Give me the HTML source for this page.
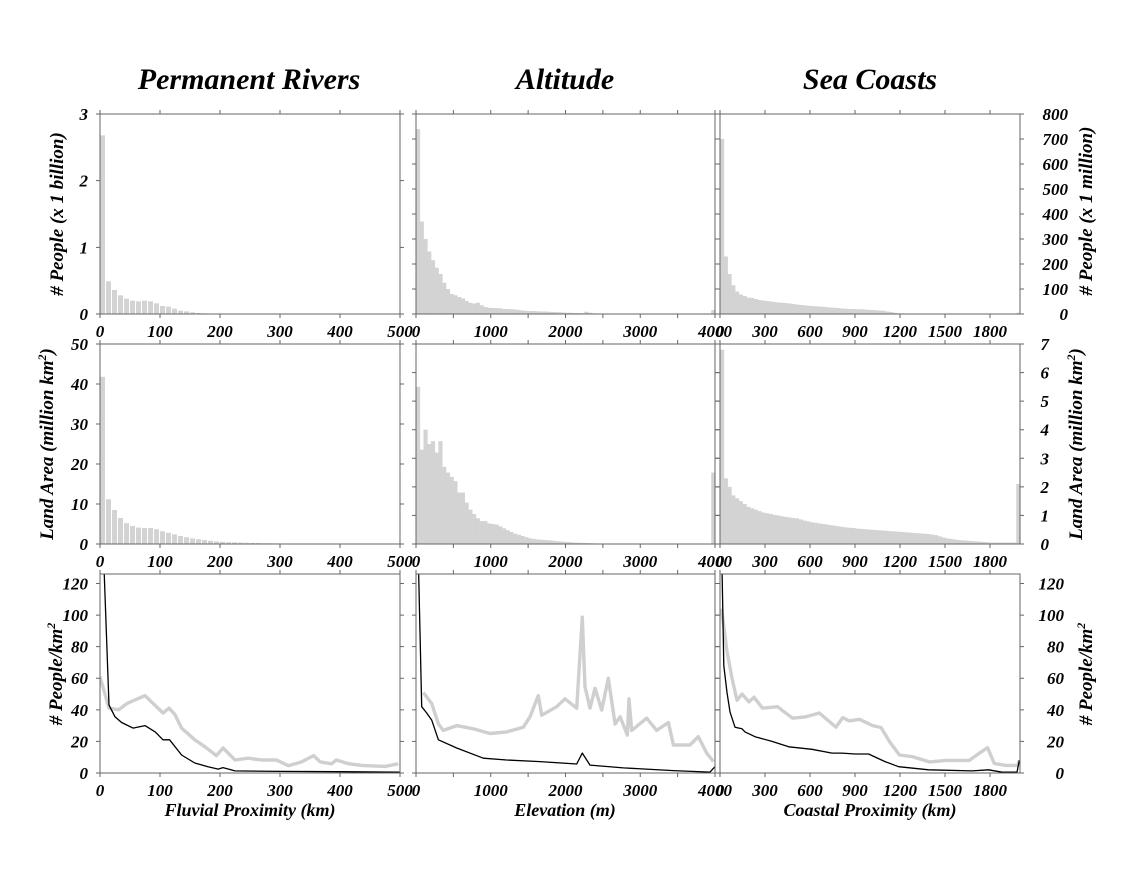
<!DOCTYPE html>
<html><head><meta charset="utf-8"><style>
html,body{margin:0;padding:0;background:#fff;}
svg{display:block;}
text{font-family:"Liberation Serif",serif;font-weight:bold;font-style:italic;fill:#000;}
</style></head><body>
<svg id="fig" width="1121" height="875" viewBox="0 0 1121 875" xmlns="http://www.w3.org/2000/svg">
<rect width="1121" height="875" fill="#fff"/>
<text x="249" y="89" font-size="30" text-anchor="middle">Permanent Rivers</text>
<text x="565" y="89" font-size="30" text-anchor="middle">Altitude</text>
<text x="870" y="89" font-size="30" text-anchor="middle">Sea Coasts</text>
<text font-size="19" text-anchor="middle" transform="translate(63,214) rotate(-90)"># People (x 1 billion)</text>
<text font-size="19" text-anchor="middle" transform="translate(53,444) rotate(-90)">Land Area (million km<tspan font-size="12" dy="-7">2</tspan><tspan dy="7">)</tspan></text>
<text font-size="19" text-anchor="middle" transform="translate(62,674) rotate(-90)"># People/km<tspan font-size="12" dy="-7">2</tspan></text>
<text font-size="19" text-anchor="middle" transform="translate(1092,211) rotate(-90)"># People (x 1 million)</text>
<text font-size="19" text-anchor="middle" transform="translate(1082,444) rotate(-90)">Land Area (million km<tspan font-size="12" dy="-7">2</tspan><tspan dy="7">)</tspan></text>
<text font-size="19" text-anchor="middle" transform="translate(1092,674) rotate(-90)"># People/km<tspan font-size="12" dy="-7">2</tspan></text>
<text x="250" y="816" font-size="18" text-anchor="middle">Fluvial Proximity (km)</text>
<text x="565" y="816" font-size="18" text-anchor="middle">Elevation (m)</text>
<text x="870" y="816" font-size="18" text-anchor="middle">Coastal Proximity (km)</text>
</svg>
<script>
// ---------- data ----------
const riverPeople = [2.68,0.49,0.36,0.28,0.23,0.20,0.19,0.20,0.19,0.16,0.12,0.11,0.08,0.05,0.04,0.025,0.015,0.01,0.008,0.005,0.004,0.003,0.003,0.002,0.002,0.002,0.001,0.001,0.001,0.001,0.001,0.001,0.001,0.001,0.001,0.001,0.001,0.001,0.001,0.001,0.001,0.001,0.001,0.001,0.001,0.001,0.001,0.001,0.001,0.001];
const riverArea = [41.8,11.2,8.5,6.5,5.2,4.5,4.1,4.0,4.0,3.7,3.2,2.8,2.4,2.0,1.7,1.4,1.2,1.0,0.8,0.65,0.55,0.45,0.4,0.35,0.3,0.27,0.24,0.21,0.19,0.17,0.15,0.13,0.12,0.11,0.1,0.09,0.08,0.07,0.06,0.05,0.05,0.04,0.04,0.03,0.03,0.03,0.02,0.02,0.02,0.02];
const altPeople = [740,370,300,250,215,185,160,125,100,80,75,68,62,52,45,42,45,35,28,25,24,24,23,20,20,19,18,16,14,13,12,12,11,10,10,9,8,8,7,6,5,5,4,4,3,9,5,3,2,2,2,2,2,2,2,1.5,1.5,1.5,1.5,1.5,1.5,1.5,1,1,1,1,1,1,1,1,1,1,1,1,1,1,1,1,1,16];
const altArea = [5.5,3.3,4.0,3.5,3.6,3.2,3.6,2.7,2.5,2.35,2.2,1.8,1.8,1.45,1.2,1.05,0.9,0.8,0.8,0.72,0.7,0.68,0.62,0.55,0.48,0.42,0.36,0.32,0.28,0.24,0.2,0.18,0.16,0.15,0.14,0.13,0.12,0.1,0.09,0.08,0.07,0.06,0.05,0.045,0.04,0.035,0.03,0.025,0.02,0.018,0.015,0.012,0.01,0.008,0.006,0.005,0.005,0.004,0.004,0.004,0.003,0.003,0.003,0.003,0.003,0.003,0.003,0.003,0.003,0.003,0.003,0.003,0.003,0.003,0.003,0.003,0.003,0.003,0.003,2.5];
const coastPeople = [700,230,160,115,90,78,72,66,64,60,56,54,52,50,48,46,45,44,42,40,38,36,35,33,32,31,30,29,27,26,25,24,22,21,20,20,19,19,18,17,16,15,14,13,10,8,5,3,2,1.5,1,1,1,1,1,1,1,1,1,1,1,1,1,1,1,1,1,1,1,1,1,1,1,1,1,1,1,1,1,5];
const coastArea = [6.8,2.3,2.0,1.7,1.6,1.5,1.4,1.3,1.25,1.2,1.15,1.1,1.08,1.05,1.02,1.0,0.97,0.95,0.93,0.91,0.9,0.86,0.82,0.79,0.76,0.74,0.72,0.7,0.68,0.66,0.64,0.62,0.6,0.58,0.57,0.56,0.54,0.53,0.52,0.51,0.5,0.49,0.48,0.47,0.46,0.45,0.44,0.43,0.42,0.41,0.4,0.39,0.38,0.37,0.36,0.35,0.33,0.31,0.27,0.23,0.2,0.18,0.16,0.14,0.13,0.12,0.11,0.1,0.09,0.08,0.07,0.06,0.05,0.05,0.05,0.05,0.05,0.05,0.05,2.1];
const riverDensKm = [0,15,25,36,55,75,92,105,116,136,158,180,197,205,225,300,400,500];
const riverDensBlack = [200,43,35.6,32,28.4,30,26,21,21,11.4,6.3,4,2.5,3.4,1.3,1,0.8,0.5];
const riverGrayKm = [0,15,31,45,75,105,115,125,136,158,175,194,205,225,247,269,294,314,336,356,367,386,394,414,436,475,497];
const riverDensGray = [61,41,40,44,49,38,41,37,28.4,21,16.6,11,15.8,8.2,9.4,8.2,8.2,4.6,7,11,7,5.8,8.2,5.9,4.8,4.2,5.8];
const altBlackM = [0,76,143,210,299,544,900,1213,1659,2150,2225,2328,2774,3443,3933,4000];
const altDensBlack = [200,42,38,33.5,21,15.8,9.4,8.2,7.2,5.7,12.6,5,3.2,1.5,0.6,4];
const altGrayM = [98,210,299,365,544,767,990,1213,1436,1525,1636,1681,1882,1993,2150,2225,2261,2328,2395,2484,2573,2663,2730,2828,2850,2885,3086,3220,3376,3443,3666,3777,3889,3978];
const altDensGray = [51,44,31,27,30,28,25,26,29,35.6,49,36.6,42,47,41,98.7,54.5,41,53.6,39.8,60,31,35.6,24,47,27,34.7,27,32,17.7,17.7,23,12.6,7.2];
const coastBlackKm = [0,25,47,67,100,147,167,233,347,458,613,747,813,900,991,1100,1191,1391,1680,1791,1880,1980,1995];
const coastDensBlack = [200,68,51,38.7,29,28,26,23,20,16.6,15,12.6,12.6,12,12,7.2,4,2,1.3,2,0.5,0.5,8];
const coastGrayKm = [10,47,80,113,147,193,227,283,383,483,573,662,773,818,862,929,1018,1073,1129,1196,1284,1396,1507,1662,1729,1784,1829,1907,1984,1995];
const coastDensGray = [104,77,60,46,50,45,48,41,42,34.7,35.6,38,29,35,33,34,30,28.8,20,11.4,10.3,7,8,8,12.6,16,6,4.8,4.8,8];
const riverTicks = ['0','100','200','300','400','500'];
const altTicks = ['0','1000','2000','3000','4000'];
const coastTicks = ['0','300','600','900','1200','1500','1800'];
const peopleBillionTicks = ['0','1','2','3'];
const peopleMillionTicks = ['0','100','200','300','400','500','600','700','800'];
const areaLeftTicks = ['0','10','20','30','40','50'];
const areaRightTicks = ['0','1','2','3','4','5','6','7'];
const densTicks = ['0','20','40','60','80','100','120'];

// ---------- layout ----------
const svg = document.getElementById('fig');
const NS = 'http://www.w3.org/2000/svg';
const cols = [{x0:100,x1:400,d0:0,d1:500,bin:10,minor:100,name:'rivers'},
              {x0:416,x1:715,d0:0,d1:4000,bin:50,minor:500,name:'altitude'},
              {x0:720,x1:1020,d0:0,d1:2000,bin:25,minor:300,name:'coasts'}];
const rows = [{y0:114,y1:314},{y0:344,y1:544},{y0:574,y1:773}];
function mk(tag, attrs){const e=document.createElementNS(NS,tag);for(const k in attrs)e.setAttribute(k,attrs[k]);svg.appendChild(e);return e;}
function sx(c,v){return c.x0+(v-c.d0)/(c.d1-c.d0)*(c.x1-c.x0);}
function sy(r,v,max){return r.y1-v/max*(r.y1-r.y0);}

function frame(c,r,yStep,yMax,key){
  const g=mk('rect',{x:c.x0,y:r.y0,width:c.x1-c.x0,height:r.y1-r.y0,fill:'none',stroke:'#666','stroke-width':1});
  
  
  let p='';
  for(let v=c.d0;v<=c.d1+0.001;v+=c.minor){const x=sx(c,v);p+=`M${x} ${r.y0}v-4M${x} ${r.y1}v4`;}
  for(let v=0;v<=yMax+0.001;v+=yStep){const y=sy(r,v,yMax);p+=`M${c.x0} ${y}h-4M${c.x1} ${y}h4`;}
  const t=mk('path',{d:p,stroke:'#666','stroke-width':1,fill:'none'});
  
  
}
function bars(c,r,vals,yMax,gap,key){
  vals.forEach((v,i)=>{
    const xa=sx(c,c.d0+i*c.bin), xb=sx(c,c.d0+(i+1)*c.bin);
    const h=Math.min(v,yMax)/yMax*(r.y1-r.y0);
    const b=mk('rect',{x:xa,y:r.y1-h,width:Math.max(0.5,xb-xa-gap+(gap?0:0.4)),height:h,fill:'#d3d3d3'});
    
    
  });
}
let clipN=0;
function line(c,r,xs,ys,yMax,color,w,key){
  const id='clip'+(clipN++);
  const cp=mk('clipPath',{id:id});
  const cr=document.createElementNS(NS,'rect');
  cr.setAttribute('x',c.x0);cr.setAttribute('y',r.y0);cr.setAttribute('width',c.x1-c.x0);cr.setAttribute('height',r.y1-r.y0);
  cp.appendChild(cr);
  const d=xs.map((x,i)=>(i?'L':'M')+sx(c,x).toFixed(1)+' '+sy(r,ys[i],yMax).toFixed(1)).join('');
  const l=mk('path',{d:d,fill:'none',stroke:color,'stroke-width':w,'stroke-linejoin':'round','clip-path':`url(#${id})`});
  
  
}
function xlabels(c,r,labels,key){
  labels.forEach(s=>{
    const t=mk('text',{x:sx(c,+s),y:r.y1+23,'font-size':17,'text-anchor':'middle'});
    t.textContent=s;
    
    
  });
}
function ylabels(xEnd,r,labels,yMax,key){
  labels.forEach(s=>{
    const y=sy(r,+s,yMax);
    const t=mk('text',{x:xEnd,y:y+6,'font-size':17,'text-anchor':'end'});
    t.textContent=s;
    
    
  });
}

// Row 1: people
bars(cols[0],rows[0],riverPeople,3,1,'river-people');
bars(cols[1],rows[0],altPeople,800,0,'alt-people');
bars(cols[2],rows[0],coastPeople,800,0,'coast-people');
// Row 2: area
bars(cols[0],rows[1],riverArea,50,1,'river-area');
bars(cols[1],rows[1],altArea,7,0,'alt-area');
bars(cols[2],rows[1],coastArea,7,0,'coast-area');
// Row 3: density
line(cols[0],rows[2],riverGrayKm,riverDensGray,126,'#cfcfcf',3.4,'river-density-gray');
line(cols[0],rows[2],riverDensKm,riverDensBlack,126,'#000',1.3,'river-density-black');
line(cols[1],rows[2],altGrayM,altDensGray,126,'#cfcfcf',3.4,'alt-density-gray');
line(cols[1],rows[2],altBlackM,altDensBlack,126,'#000',1.3,'alt-density-black');
line(cols[2],rows[2],coastGrayKm,coastDensGray,126,'#cfcfcf',3.4,'coast-density-gray');
line(cols[2],rows[2],coastBlackKm,coastDensBlack,126,'#000',1.3,'coast-density-black');

// frames & ticks
frame(cols[0],rows[0],1,3,'r1c1'); frame(cols[1],rows[0],100,800,'r1c2'); frame(cols[2],rows[0],100,800,'r1c3');
frame(cols[0],rows[1],10,50,'r2c1'); frame(cols[1],rows[1],1,7,'r2c2'); frame(cols[2],rows[1],1,7,'r2c3');
frame(cols[0],rows[2],20,126,'r3c1'); frame(cols[1],rows[2],20,126,'r3c2'); frame(cols[2],rows[2],20,126,'r3c3');

// tick labels
rows.forEach((r,ri)=>{
  xlabels(cols[0],r,riverTicks,'r'+ri+'-river');
  xlabels(cols[1],r,altTicks,'r'+ri+'-alt');
  xlabels(cols[2],r,coastTicks,'r'+ri+'-coast');
});
ylabels(88,rows[0],peopleBillionTicks,3,'people-billion');
ylabels(1068,rows[0],peopleMillionTicks,800,'people-million');
ylabels(88,rows[1],areaLeftTicks,50,'area-left');
ylabels(1049,rows[1],areaRightTicks,7,'area-right');
ylabels(88,rows[2],densTicks,126,'density-left');
ylabels(1064,rows[2],densTicks,126,'density-right');
</script>
</body></html>
